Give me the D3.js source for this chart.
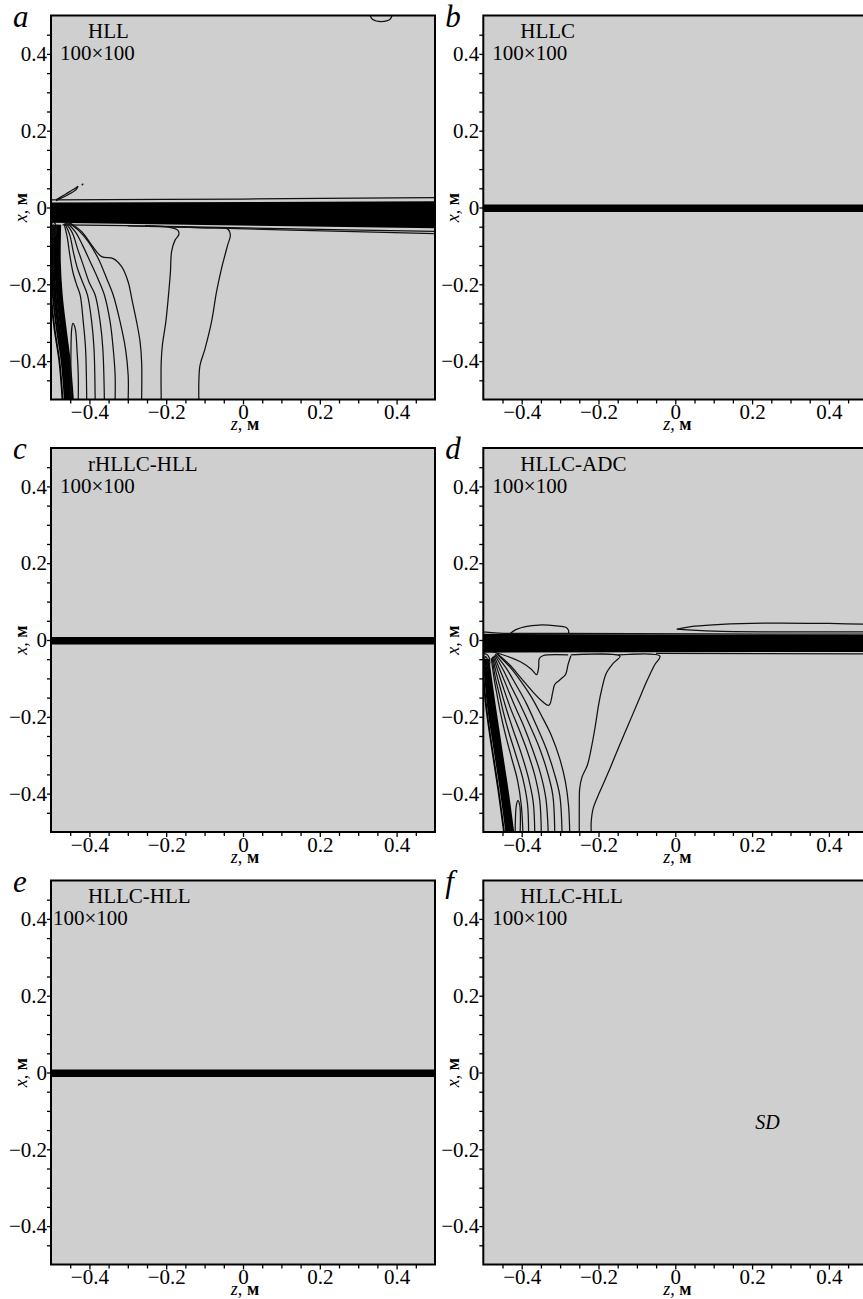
<!DOCTYPE html>
<html>
<head>
<meta charset="utf-8">
<script src="https://cdn.jsdelivr.net/npm/d3@7/dist/d3.min.js"></script>
<style>
body { margin: 0; background: #ffffff; }
svg { display: block; }
</style>
</head>
<body>
<svg width="863" height="1299"></svg>
<script>
/*********
* layout *
*********/
var panel_size = 384
var col_x = [51, 483.3]
var row_y = [15.5, 448, 880.5]
var bg_gray = "#cfcfcf"
var serif = "'Liberation Serif', 'Times New Roman', serif"

/*******
* data *
*******/
var panel_letters = ["a", "b", "c", "d", "e", "f"]
var panel_methods = ["HLL", "HLLC", "rHLLC-HLL", "HLLC-ADC", "HLLC-HLL", "HLLC-HLL"]
var panel_grids = ["100×100", "100×100", "100×100", "100×100", "100×100", "100×100"]

var major_ticks = [-0.4, -0.2, 0, 0.2, 0.4]
var minor_ticks = [-0.45, -0.35, -0.3, -0.25, -0.15, -0.1, -0.05, 0.05, 0.1, 0.15, 0.25, 0.3, 0.35, 0.45]
var tick_labels = ["−0.4", "−0.2", "0", "0.2", "0.4"]

// black layer around x = 0, [z, x]
var band_a = [[-0.5, 0.013], [0.5, 0.016], [0.5, -0.054], [-0.5, -0.040]]
var band_thin = [[-0.5, 0.008], [0.5, 0.008], [0.5, -0.012], [-0.5, -0.012]]
var band_d = [[-0.5, 0.016], [0.5, 0.013], [0.5, -0.031], [-0.5, -0.033]]

// panel a contour lines, [z, x]
var a_r1 = [[-0.186,-0.050],[-0.099,-0.053],[-0.040,-0.056],[-0.033,-0.072],[-0.040,-0.098],[-0.056,-0.159],[-0.069,-0.220],[-0.082,-0.298],[-0.099,-0.368],[-0.112,-0.411],[-0.115,-0.455],[-0.115,-0.5]]
var a_r2 = [[-0.255,-0.047],[-0.203,-0.050],[-0.170,-0.059],[-0.167,-0.070],[-0.177,-0.085],[-0.186,-0.115],[-0.189,-0.168],[-0.194,-0.228],[-0.201,-0.298],[-0.210,-0.359],[-0.213,-0.402],[-0.213,-0.5]]
var a_l = [[-0.455,-0.037],[-0.420,-0.063],[-0.394,-0.098],[-0.368,-0.128],[-0.338,-0.133],[-0.316,-0.154],[-0.299,-0.194],[-0.288,-0.246],[-0.277,-0.298],[-0.268,-0.350],[-0.264,-0.402],[-0.264,-0.5]]
var a_f1 = [[-0.458,-0.037],[-0.429,-0.059],[-0.403,-0.089],[-0.377,-0.133],[-0.355,-0.185],[-0.338,-0.228],[-0.320,-0.298],[-0.306,-0.368],[-0.299,-0.437],[-0.299,-0.5]]
var a_f2 = [[-0.461,-0.037],[-0.437,-0.063],[-0.418,-0.098],[-0.398,-0.141],[-0.378,-0.185],[-0.361,-0.228],[-0.346,-0.298],[-0.338,-0.368],[-0.333,-0.437],[-0.333,-0.5]]
var a_f3 = [[-0.463,-0.039],[-0.444,-0.067],[-0.431,-0.107],[-0.416,-0.150],[-0.401,-0.194],[-0.385,-0.228],[-0.372,-0.298],[-0.365,-0.368],[-0.361,-0.5]]
var a_f4 = [[-0.464,-0.041],[-0.451,-0.072],[-0.442,-0.115],[-0.431,-0.159],[-0.418,-0.194],[-0.405,-0.228],[-0.394,-0.298],[-0.388,-0.368],[-0.385,-0.5]]
var a_f5 = [[-0.466,-0.042],[-0.458,-0.076],[-0.451,-0.124],[-0.443,-0.168],[-0.433,-0.202],[-0.424,-0.228],[-0.416,-0.298],[-0.410,-0.368],[-0.407,-0.5]]
var a_tongue = [[-0.448,-0.5],[-0.446,-0.315],[-0.443,-0.302],[-0.437,-0.315],[-0.432,-0.376],[-0.429,-0.437],[-0.429,-0.5]]
var a_s0 = [[-0.503,-0.060],[-0.503,-0.141],[-0.500,-0.228],[-0.491,-0.315],[-0.478,-0.402],[-0.470,-0.5]]
var a_s1 = [[-0.498,-0.045],[-0.499,-0.141],[-0.495,-0.228],[-0.485,-0.315],[-0.472,-0.402],[-0.464,-0.5]]
var a_s2 = [[-0.494,-0.045],[-0.496,-0.141],[-0.491,-0.228],[-0.481,-0.315],[-0.469,-0.402],[-0.461,-0.5]]
var a_s3 = [[-0.491,-0.045],[-0.492,-0.141],[-0.488,-0.228],[-0.478,-0.315],[-0.466,-0.402],[-0.458,-0.5]]
var a_s4 = [[-0.488,-0.045],[-0.489,-0.141],[-0.484,-0.228],[-0.474,-0.315],[-0.463,-0.402],[-0.455,-0.5]]
var a_s5 = [[-0.485,-0.045],[-0.486,-0.141],[-0.481,-0.228],[-0.471,-0.315],[-0.460,-0.402],[-0.452,-0.5]]
var a_s6 = [[-0.482,-0.045],[-0.483,-0.141],[-0.478,-0.228],[-0.468,-0.315],[-0.457,-0.402],[-0.449,-0.5]]
var a_s7 = [[-0.479,-0.045],[-0.480,-0.141],[-0.475,-0.228],[-0.465,-0.315],[-0.454,-0.402],[-0.446,-0.5]]
var a_s8 = [[-0.476,-0.045],[-0.477,-0.141],[-0.472,-0.228],[-0.462,-0.315],[-0.451,-0.402],[-0.443,-0.5]]
var a_loop1 = [[-0.497,-0.037],[-0.489,-0.042],[-0.485,-0.055],[-0.488,-0.070],[-0.495,-0.075],[-0.499,-0.060],[-0.497,-0.037]]
var a_loop2 = [[-0.495,-0.045],[-0.490,-0.050],[-0.489,-0.060],[-0.494,-0.066],[-0.497,-0.055],[-0.495,-0.045]]
var a_above = [[-0.5, 0.020], [0.0, 0.022], [0.5, 0.026]]
var a_below1 = [[-0.47, -0.045], [-0.2, -0.049], [0.1, -0.055], [0.5, -0.062]]
var a_below2 = [[-0.3, -0.048], [0.1, -0.058], [0.5, -0.068]]
var a_streak = [[-0.487,0.020],[-0.460,0.036],[-0.437,0.050],[-0.430,0.055],[-0.434,0.047],[-0.458,0.032],[-0.487,0.018]]
var a_dot = [[-0.420, 0.058], [-0.416, 0.062]]
var a_top = [[0.331, 0.5], [0.337, 0.490], [0.360, 0.484], [0.383, 0.490], [0.388, 0.5]]

// panel d contour lines, [z, x]
var d_1 = [[-0.479,-0.030],[-0.436,-0.043],[-0.401,-0.058],[-0.375,-0.076],[-0.361,-0.090],[-0.356,-0.072],[-0.354,-0.048],[-0.345,-0.041],[-0.279,-0.039]]
var d_2 = [[-0.272,-0.041],[-0.279,-0.063],[-0.286,-0.090],[-0.301,-0.104],[-0.314,-0.116],[-0.319,-0.135],[-0.329,-0.170],[-0.345,-0.161],[-0.371,-0.135],[-0.401,-0.100],[-0.431,-0.065],[-0.462,-0.037]]
var d_3 = [[-0.272,-0.039],[-0.144,-0.042],[-0.162,-0.061],[-0.180,-0.087],[-0.191,-0.126],[-0.200,-0.170],[-0.208,-0.222],[-0.219,-0.283],[-0.229,-0.326],[-0.243,-0.357],[-0.249,-0.387],[-0.250,-0.431],[-0.250,-0.5]]
var d_4 = [[-0.149,-0.039],[-0.040,-0.042],[-0.054,-0.065],[-0.075,-0.109],[-0.097,-0.161],[-0.123,-0.222],[-0.149,-0.283],[-0.174,-0.344],[-0.197,-0.396],[-0.214,-0.439],[-0.219,-0.474],[-0.219,-0.5]]
var d_g1 = [[-0.466,-0.035],[-0.431,-0.070],[-0.401,-0.109],[-0.375,-0.148],[-0.349,-0.196],[-0.323,-0.248],[-0.301,-0.309],[-0.286,-0.370],[-0.278,-0.431],[-0.275,-0.5]]
var d_g2 = [[-0.469,-0.037],[-0.440,-0.074],[-0.414,-0.118],[-0.388,-0.165],[-0.362,-0.222],[-0.336,-0.283],[-0.316,-0.344],[-0.301,-0.404],[-0.295,-0.5]]
var d_g3 = [[-0.470,-0.039],[-0.448,-0.078],[-0.427,-0.122],[-0.403,-0.170],[-0.379,-0.222],[-0.353,-0.283],[-0.333,-0.344],[-0.319,-0.404],[-0.314,-0.5]]
var d_g4 = [[-0.472,-0.041],[-0.455,-0.082],[-0.437,-0.126],[-0.417,-0.174],[-0.394,-0.226],[-0.371,-0.287],[-0.351,-0.348],[-0.337,-0.413],[-0.331,-0.5]]
var d_g5 = [[-0.474,-0.043],[-0.460,-0.087],[-0.446,-0.130],[-0.429,-0.178],[-0.408,-0.230],[-0.385,-0.291],[-0.366,-0.352],[-0.353,-0.418],[-0.349,-0.5]]
var d_g6 = [[-0.476,-0.044],[-0.465,-0.091],[-0.453,-0.135],[-0.439,-0.183],[-0.422,-0.235],[-0.401,-0.296],[-0.383,-0.357],[-0.370,-0.422],[-0.366,-0.5]]
var d_g7 = [[-0.477,-0.046],[-0.469,-0.096],[-0.459,-0.139],[-0.448,-0.187],[-0.434,-0.239],[-0.415,-0.300],[-0.397,-0.361],[-0.385,-0.426],[-0.382,-0.5]]
var d_g8 = [[-0.479,-0.048],[-0.472,-0.100],[-0.464,-0.144],[-0.455,-0.191],[-0.443,-0.244],[-0.427,-0.305],[-0.411,-0.365],[-0.401,-0.431],[-0.397,-0.5]]
var d_tongue = [[-0.417,-0.5],[-0.414,-0.431],[-0.410,-0.418],[-0.405,-0.431],[-0.404,-0.5]]
var d_t0 = [[-0.502,-0.070],[-0.492,-0.178],[-0.476,-0.291],[-0.460,-0.396],[-0.446,-0.5]]
var d_t1 = [[-0.499,-0.050],[-0.487,-0.178],[-0.470,-0.291],[-0.454,-0.396],[-0.440,-0.5]]
var d_t2 = [[-0.497,-0.050],[-0.484,-0.178],[-0.467,-0.291],[-0.451,-0.396],[-0.437,-0.5]]
var d_t3 = [[-0.495,-0.050],[-0.481,-0.178],[-0.464,-0.291],[-0.448,-0.396],[-0.434,-0.5]]
var d_t4 = [[-0.493,-0.050],[-0.478,-0.178],[-0.461,-0.291],[-0.445,-0.396],[-0.431,-0.5]]
var d_t5 = [[-0.491,-0.050],[-0.475,-0.178],[-0.458,-0.291],[-0.442,-0.396],[-0.428,-0.5]]
var d_t6 = [[-0.489,-0.050],[-0.472,-0.178],[-0.455,-0.291],[-0.439,-0.396],[-0.425,-0.5]]
var d_t7 = [[-0.487,-0.050],[-0.469,-0.178],[-0.452,-0.291],[-0.436,-0.396],[-0.422,-0.5]]
var d_loop1 = [[-0.498,-0.035],[-0.488,-0.040],[-0.483,-0.055],[-0.487,-0.075],[-0.496,-0.080],[-0.500,-0.060],[-0.498,-0.035]]
var d_loop2 = [[-0.495,-0.042],[-0.490,-0.048],[-0.488,-0.060],[-0.492,-0.070],[-0.497,-0.060],[-0.495,-0.042]]
var d_above = [[-0.5, 0.021], [-0.46, 0.018], [-0.3, 0.017], [0.5, 0.015]]
var d_below = [[-0.05, -0.035], [0.5, -0.036]]
var d_bubble = [[-0.430,0.017],[-0.415,0.027],[-0.390,0.035],[-0.355,0.039],[-0.310,0.037],[-0.285,0.033],[-0.278,0.025],[-0.278,0.017]]
var d_lens_top = [[0.004,0.028],[0.050,0.036],[0.120,0.041],[0.250,0.044],[0.400,0.043],[0.520,0.041]]
var d_lens_bottom = [[0.004,0.028],[0.100,0.023],[0.300,0.021],[0.520,0.021]]

var contours_a = [a_r1, a_r2, a_l, a_f1, a_f2, a_f3, a_f4, a_f5, a_tongue,
                  a_loop1, a_loop2, a_above, a_below1, a_below2, a_streak, a_dot, a_top]
var strip_a = [a_s0, a_s1, a_s2, a_s3, a_s4, a_s5, a_s6, a_s7, a_s8]
var contours_d = [d_1, d_2, d_3, d_4, d_g1, d_g2, d_g3, d_g4, d_g5, d_g6, d_g7, d_g8, d_tongue,
                  d_loop1, d_loop2, d_above, d_below, d_bubble, d_lens_top, d_lens_bottom]
var strip_d = [d_t0, d_t1, d_t2, d_t3, d_t4, d_t5, d_t6, d_t7]

var panel_bands = [band_a, band_thin, band_thin, band_d, band_thin, null]
var panel_contours = [contours_a, [], [], contours_d, [], []]
var panel_strips = [strip_a, [], [], strip_d, [], []]
var panel_notes = [null, null, null, null, null, {text: "SD", z: 0.24, x: -0.146}]

/***********
* drawing *
***********/
var svg = d3.select("svg")

function style_axis(g){
    g.attr("font-family", null).attr("font-size", null)
    g.select(".domain").remove()
    g.selectAll("line").attr("stroke", "#000").attr("stroke-width", 1.3)
    g.selectAll("text")
        .style("font-family", serif)
        .style("font-size", "21px")
        .attr("fill", "#000")
}

function add_text(g, x, y, size, str){
    return g.append("text")
        .attr("x", x)
        .attr("y", y)
        .style("font-family", serif)
        .style("font-size", size + "px")
        .attr("fill", "#000")
        .text(str)
}

function draw_panel(i){
    var left = col_x[i % 2]
    var top = row_y[Math.floor(i / 2)]
    var zs = d3.scaleLinear().domain([-0.5, 0.5]).range([left, left + panel_size])
    var xs = d3.scaleLinear().domain([-0.5, 0.5]).range([top + panel_size, top])
    var line = d3.line()
        .x(function(d){ return zs(d[0]) })
        .y(function(d){ return xs(d[1]) })

    var g = svg.append("g").attr("class", "panel_" + panel_letters[i])

    g.append("clipPath")
        .attr("id", "clip" + i)
        .append("rect")
        .attr("x", left).attr("y", top)
        .attr("width", panel_size).attr("height", panel_size)

    g.append("rect")
        .attr("x", left).attr("y", top)
        .attr("width", panel_size).attr("height", panel_size)
        .attr("fill", bg_gray)

    var inner = g.append("g").attr("clip-path", "url(#clip" + i + ")")

    if (panel_bands[i]){
        inner.append("path")
            .datum(panel_bands[i])
            .attr("d", line)
            .attr("fill", "#000")
    }

    var smooth = d3.line()
        .x(function(d){ return zs(d[0]) })
        .y(function(d){ return xs(d[1]) })
        .curve(d3.curveCatmullRom.alpha(0.5))

    inner.selectAll(".strip")
        .data(panel_strips[i])
        .enter()
        .append("path")
        .attr("class", "strip")
        .attr("d", smooth)
        .attr("fill", "none")
        .attr("stroke", "#000")
        .attr("stroke-width", 1.9)

    inner.selectAll(".contour")
        .data(panel_contours[i])
        .enter()
        .append("path")
        .attr("class", "contour")
        .attr("d", smooth)
        .attr("fill", "none")
        .attr("stroke", "#111")
        .attr("stroke-width", 1.25)

    // axes
    g.append("g")
        .attr("transform", "translate(0," + (top + panel_size) + ")")
        .call(d3.axisBottom(zs).tickValues(minor_ticks).tickSize(4).tickFormat(""))
        .call(style_axis)
    g.append("g")
        .attr("transform", "translate(0," + (top + panel_size) + ")")
        .call(d3.axisBottom(zs).tickValues(major_ticks).tickSize(5).tickPadding(0)
              .tickFormat(function(d, k){ return tick_labels[k] }))
        .call(style_axis)
    g.append("g")
        .attr("transform", "translate(" + left + ",0)")
        .call(d3.axisLeft(xs).tickValues(minor_ticks).tickSize(4).tickFormat(""))
        .call(style_axis)
    g.append("g")
        .attr("transform", "translate(" + left + ",0)")
        .call(d3.axisLeft(xs).tickValues(major_ticks).tickSize(4).tickPadding(0)
              .tickFormat(function(d, k){ return tick_labels[k] }))
        .call(style_axis)

    // frame
    g.append("rect")
        .attr("x", left).attr("y", top)
        .attr("width", panel_size).attr("height", panel_size)
        .attr("fill", "none")
        .attr("stroke", "#000")
        .attr("stroke-width", 2)

    // axis titles
    var zt = add_text(g, zs(0) + 2, top + panel_size + 30.5, 18, null)
        .attr("text-anchor", "middle")
    zt.append("tspan").style("font-style", "italic").text("z,")
    zt.append("tspan").style("font-weight", "bold").text(" м")

    var xt = add_text(g, 0, 0, 18, null)
        .attr("transform", "translate(" + (left - 24) + "," + xs(0) + ") rotate(-90)")
        .attr("text-anchor", "middle")
    xt.append("tspan").style("font-style", "italic").text("x,")
    xt.append("tspan").style("font-weight", "bold").text(" м")

    // panel letter and method
    add_text(g, left - 38, top + 11, 31, panel_letters[i])
        .style("font-style", "italic")
    add_text(g, left + 37, top + 22.5, 21, panel_methods[i])
    add_text(g, left + (i == 4 ? 2 : 9), top + 44.5, 21, panel_grids[i])

    if (panel_notes[i]){
        add_text(g, zs(panel_notes[i].z), xs(panel_notes[i].x), 20, panel_notes[i].text)
            .attr("text-anchor", "middle")
            .style("font-style", "italic")
    }
}

for (var i = 0; i < panel_letters.length; i++){
    draw_panel(i)
}
</script>
</body>
</html>
